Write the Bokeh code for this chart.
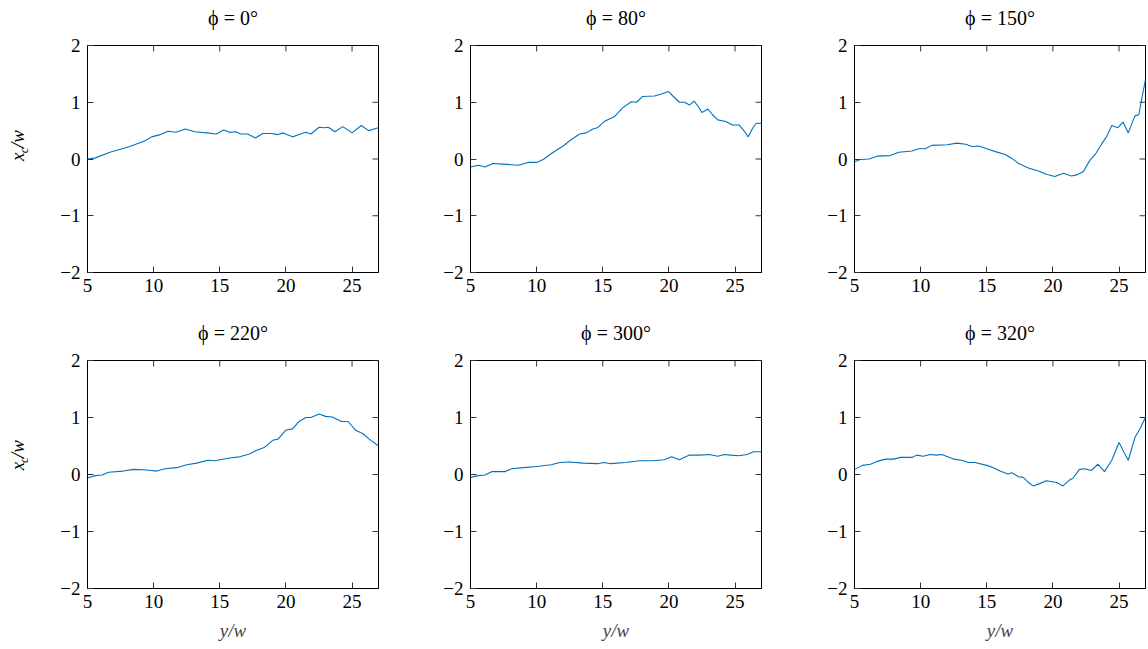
import math
from bokeh.plotting import figure
from bokeh.models import Range1d, LinearAxis, FixedTicker, CustomJSTickFormatter
from bokeh.core.properties import value
from bokeh.layouts import column, row
from bokeh.embed import file_html
from bokeh.resources import INLINE

# ---------------- data ----------------
titles = ["ϕ = 0°", "ϕ = 80°", "ϕ = 150°", "ϕ = 220°", "ϕ = 300°", "ϕ = 320°"]
x_ticks = [5, 10, 15, 20, 25]
y_ticks = [-2, -1, 0, 1, 2]
x_label = "y/w"
y_label_parts = ["x", "c", "/w"]   # x_c / w

x_phi0 = [5.0, 5.6, 6.7, 8.2, 9.35, 9.85, 10.5, 11.1, 11.7, 12.4, 13.1, 14.0, 14.75, 15.3, 15.75, 16.2,
          16.6, 17.1, 17.7, 18.25, 18.9, 19.4, 19.8, 20.5, 21.0, 21.5, 21.9, 22.5, 22.9, 23.2, 23.7,
          24.3, 25.0, 25.7, 26.25, 27.0]
y_phi0 = [0.0, 0.02, 0.12, 0.22, 0.32, 0.39, 0.43, 0.49, 0.47, 0.53, 0.48, 0.46, 0.44, 0.51, 0.47, 0.48,
          0.44, 0.44, 0.37, 0.45, 0.45, 0.43, 0.46, 0.39, 0.43, 0.47, 0.44, 0.56, 0.55, 0.56, 0.48,
          0.57, 0.46, 0.59, 0.50, 0.55]

x_phi80 = [5.0, 5.6, 6.1, 6.7, 7.45, 8.6, 9.35, 10.0, 10.5, 11.2, 12.0, 12.6, 13.25, 13.75, 14.25, 14.6,
           15.1, 15.9, 16.5, 17.15, 17.55, 18.0, 18.9, 19.5, 19.95, 20.3, 20.8, 21.2, 21.55, 21.9, 22.2,
           22.5, 22.95, 23.3, 23.7, 24.3, 24.8, 25.3, 25.7, 26.0, 26.35, 26.6, 27.0]
y_phi80 = [-0.14, -0.11, -0.14, -0.08, -0.09, -0.11, -0.06, -0.06, -0.01, 0.11, 0.23, 0.34, 0.44, 0.46,
           0.53, 0.55, 0.66, 0.75, 0.90, 1.01, 1.00, 1.10, 1.11, 1.15, 1.19, 1.11, 1.00, 1.00, 0.95, 1.02,
           0.93, 0.82, 0.88, 0.78, 0.69, 0.66, 0.60, 0.60, 0.49, 0.39, 0.55, 0.63, 0.63]

x_phi150 = [5.0, 5.45, 6.1, 6.7, 7.7, 8.35, 9.35, 9.85, 10.35, 10.85, 12.0, 12.75, 13.4, 13.9, 14.4, 15.0,
            15.65, 16.4, 16.9, 17.4, 18.15, 18.9, 19.5, 20.15, 20.8, 21.4, 21.8, 22.3, 22.8, 23.2, 23.7,
            24.05, 24.45, 24.9, 25.3, 25.7, 26.2, 26.5, 26.7, 27.0]
y_phi150 = [-0.05, -0.01, 0.0, 0.05, 0.06, 0.12, 0.14, 0.18, 0.18, 0.24, 0.25, 0.28, 0.26, 0.22, 0.23,
            0.18, 0.13, 0.08, 0.01, -0.08, -0.16, -0.21, -0.27, -0.31, -0.25, -0.30, -0.28, -0.22, -0.02,
            0.08, 0.27, 0.39, 0.59, 0.55, 0.65, 0.46, 0.76, 0.78, 1.04, 1.40]

x_phi220 = [5.0, 5.6, 6.1, 6.6, 7.7, 8.5, 9.5, 10.25, 10.85, 11.75, 12.5, 13.25, 14.1, 14.6, 15.75, 16.5,
            17.25, 17.75, 18.4, 19.0, 19.4, 20.0, 20.5, 21.0, 21.5, 21.9, 22.5, 23.0, 23.5, 24.2, 24.7,
            25.3, 25.8, 26.3, 27.0]
y_phi220 = [-0.06, -0.02, -0.01, 0.04, 0.06, 0.09, 0.08, 0.06, 0.10, 0.12, 0.17, 0.20, 0.25, 0.24, 0.29,
            0.31, 0.36, 0.42, 0.48, 0.60, 0.62, 0.78, 0.80, 0.93, 1.00, 1.00, 1.06, 1.02, 1.01, 0.93, 0.93,
            0.77, 0.72, 0.62, 0.50]

x_phi300 = [5.0, 5.6, 6.1, 6.6, 7.6, 8.1, 9.0, 10.0, 11.1, 11.75, 12.5, 13.5, 14.6, 15.1, 15.6, 16.75,
            17.75, 18.75, 19.65, 20.2, 20.8, 21.55, 22.3, 23.05, 23.7, 24.2, 24.7, 25.3, 25.9, 26.4, 27.0]
y_phi300 = [-0.05, -0.02, -0.01, 0.05, 0.05, 0.10, 0.12, 0.14, 0.17, 0.21, 0.22, 0.20, 0.19, 0.21, 0.19,
            0.21, 0.24, 0.24, 0.26, 0.31, 0.26, 0.34, 0.34, 0.35, 0.32, 0.35, 0.34, 0.33, 0.35, 0.40, 0.40]

x_phi320 = [5.0, 5.6, 6.2, 6.7, 7.35, 7.95, 8.5, 9.35, 9.7, 10.2, 10.7, 11.2, 11.6, 12.5, 13.1, 13.6,
            14.1, 15.0, 15.5, 16.0, 16.6, 16.9, 17.4, 17.75, 18.15, 18.5, 19.0, 19.5, 20.3, 20.75, 21.3,
            21.5, 22.0, 22.4, 22.9, 23.4, 23.9, 24.45, 25.0, 25.35, 25.7, 26.2, 26.6, 27.0]
y_phi320 = [0.09, 0.16, 0.18, 0.23, 0.27, 0.27, 0.30, 0.30, 0.34, 0.32, 0.35, 0.34, 0.35, 0.27, 0.25,
            0.21, 0.21, 0.16, 0.12, 0.06, 0.01, 0.03, -0.04, -0.05, -0.14, -0.20, -0.16, -0.11, -0.14,
            -0.20, -0.09, -0.07, 0.09, 0.10, 0.07, 0.18, 0.05, 0.25, 0.56, 0.40, 0.25, 0.65, 0.81, 1.00]

series = [(x_phi0, y_phi0), (x_phi80, y_phi80), (x_phi150, y_phi150),
          (x_phi220, y_phi220), (x_phi300, y_phi300), (x_phi320, y_phi320)]

# ---------------- style / layout ----------------
FONT = "Liberation Serif"
FS = "19px"
TFS = "20px"
BLUE = "#0072BD"
TICK = "#333333"
X0, X1, Y0, Y1 = 5, 27, -2, 2
minus_fmt = "return tick < 0 ? '\u2212' + Math.abs(tick) : tick.toString();"
LABW = 40                       # strip holding the y-axis label
FW = 291                        # frame width
LEFT = 87                       # frame left offset inside a column
RIGHTS = [5, 6, 2]
COLW = [LEFT + FW + RIGHTS[0], LEFT + FW + RIGHTS[1], LEFT + FW + RIGHTS[2]]
TOTW = sum(COLW)
STRIPS = [36, 35]               # title strip heights
ROWS = [dict(top=9, fh=227, bottom=44), dict(top=9, fh=228, bottom=60)]


def blank(width, height, xr, yr):
    q = figure(width=width, height=height, x_range=xr, y_range=yr,
               x_axis_type=None, y_axis_type=None, output_backend="svg",
               toolbar_location=None, min_border=0, outline_line_color=None)
    q.background_fill_color = "white"
    q.border_fill_color = "white"
    return q


def style_axis(ax, ticks, standoff):
    ax.ticker = FixedTicker(ticks=ticks)
    ax.major_tick_in = 6
    ax.major_tick_out = 0
    ax.minor_tick_line_color = None
    ax.axis_line_color = "black"
    ax.major_tick_line_color = TICK
    ax.major_label_text_font = FONT
    ax.major_label_text_color = "black"
    ax.major_label_text_font_size = FS
    ax.major_label_standoff = standoff
    ax.formatter = CustomJSTickFormatter(code=minus_fmt)


def make_panel(i):
    r_i, col = divmod(i, 3)
    r = ROWS[r_i]
    left = LEFT - LABW if col == 0 else LEFT
    right = RIGHTS[col]
    p = figure(width=left + FW + right, height=r["top"] + r["fh"] + r["bottom"],
               x_range=Range1d(X0, X1), y_range=Range1d(Y0, Y1),
               x_axis_type=None, y_axis_type=None,
               output_backend="svg", toolbar_location=None,
               min_border_left=left, min_border_right=right,
               min_border_top=r["top"], min_border_bottom=r["bottom"])
    p.outline_line_color = "black"
    p.outline_line_width = 1
    p.background_fill_color = "white"
    p.border_fill_color = "white"

    xb = LinearAxis()
    style_axis(xb, x_ticks, 6)
    if r_i == 1:
        xb.axis_label = x_label
        xb.axis_label_text_font = FONT
        xb.axis_label_text_font_size = FS
        xb.axis_label_text_font_style = "italic"
        xb.axis_label_standoff = 9
    p.add_layout(xb, "below")
    yl = LinearAxis()
    style_axis(yl, y_ticks, 7)
    p.add_layout(yl, "left")

    # mirrored inward ticks on top and right (half of each dash is clipped by the frame)
    p.scatter(x_ticks, [Y1] * len(x_ticks), marker="dash", size=12, angle=math.pi / 2,
              line_color=TICK, line_width=1)
    p.scatter([X1] * len(y_ticks), y_ticks, marker="dash", size=12,
              line_color=TICK, line_width=1)

    xs, ys = series[i]
    p.line(xs, ys, line_color=BLUE, line_width=1.1)
    return p


def make_title_strip(r_i):
    H = STRIPS[r_i]
    q = blank(TOTW, H, Range1d(0, TOTW), Range1d(0, H))
    centers = [sum(COLW[:c]) + LEFT + FW / 2 for c in range(3)]
    q.text(x=centers, y=[19] * 3, text=titles[3 * r_i:3 * r_i + 3],
           text_align="center", text_baseline="middle", text_font=value(FONT),
           text_font_size="20px", text_color="black")
    return q


def make_ylabel(r_i):
    r = ROWS[r_i]
    H = r["top"] + r["fh"] + r["bottom"]
    q = blank(LABW, H, Range1d(0, LABW), Range1d(0, H))
    cy = H - (r["top"] + r["fh"] / 2)       # frame centre in the strip's own units
    common = dict(angle=math.pi / 2, text_align="left", text_baseline="middle",
                  text_font=value(FONT), text_font_style="italic", text_color="black")
    q.text(x=[17], y=[cy - 20], text=[y_label_parts[0]], text_font_size="19px", **common)
    q.text(x=[22.5], y=[cy - 10.5], text=[y_label_parts[1]], text_font_size="13px", **common)
    q.text(x=[17], y=[cy - 4], text=[y_label_parts[2]], text_font_size="19px", **common)
    return q


panels = [make_panel(i) for i in range(6)]
layout = column(
    make_title_strip(0),
    row(make_ylabel(0), *panels[0:3]),
    make_title_strip(1),
    row(make_ylabel(1), *panels[3:6]),
)

open("out.html", "w").write(file_html(layout, INLINE))
